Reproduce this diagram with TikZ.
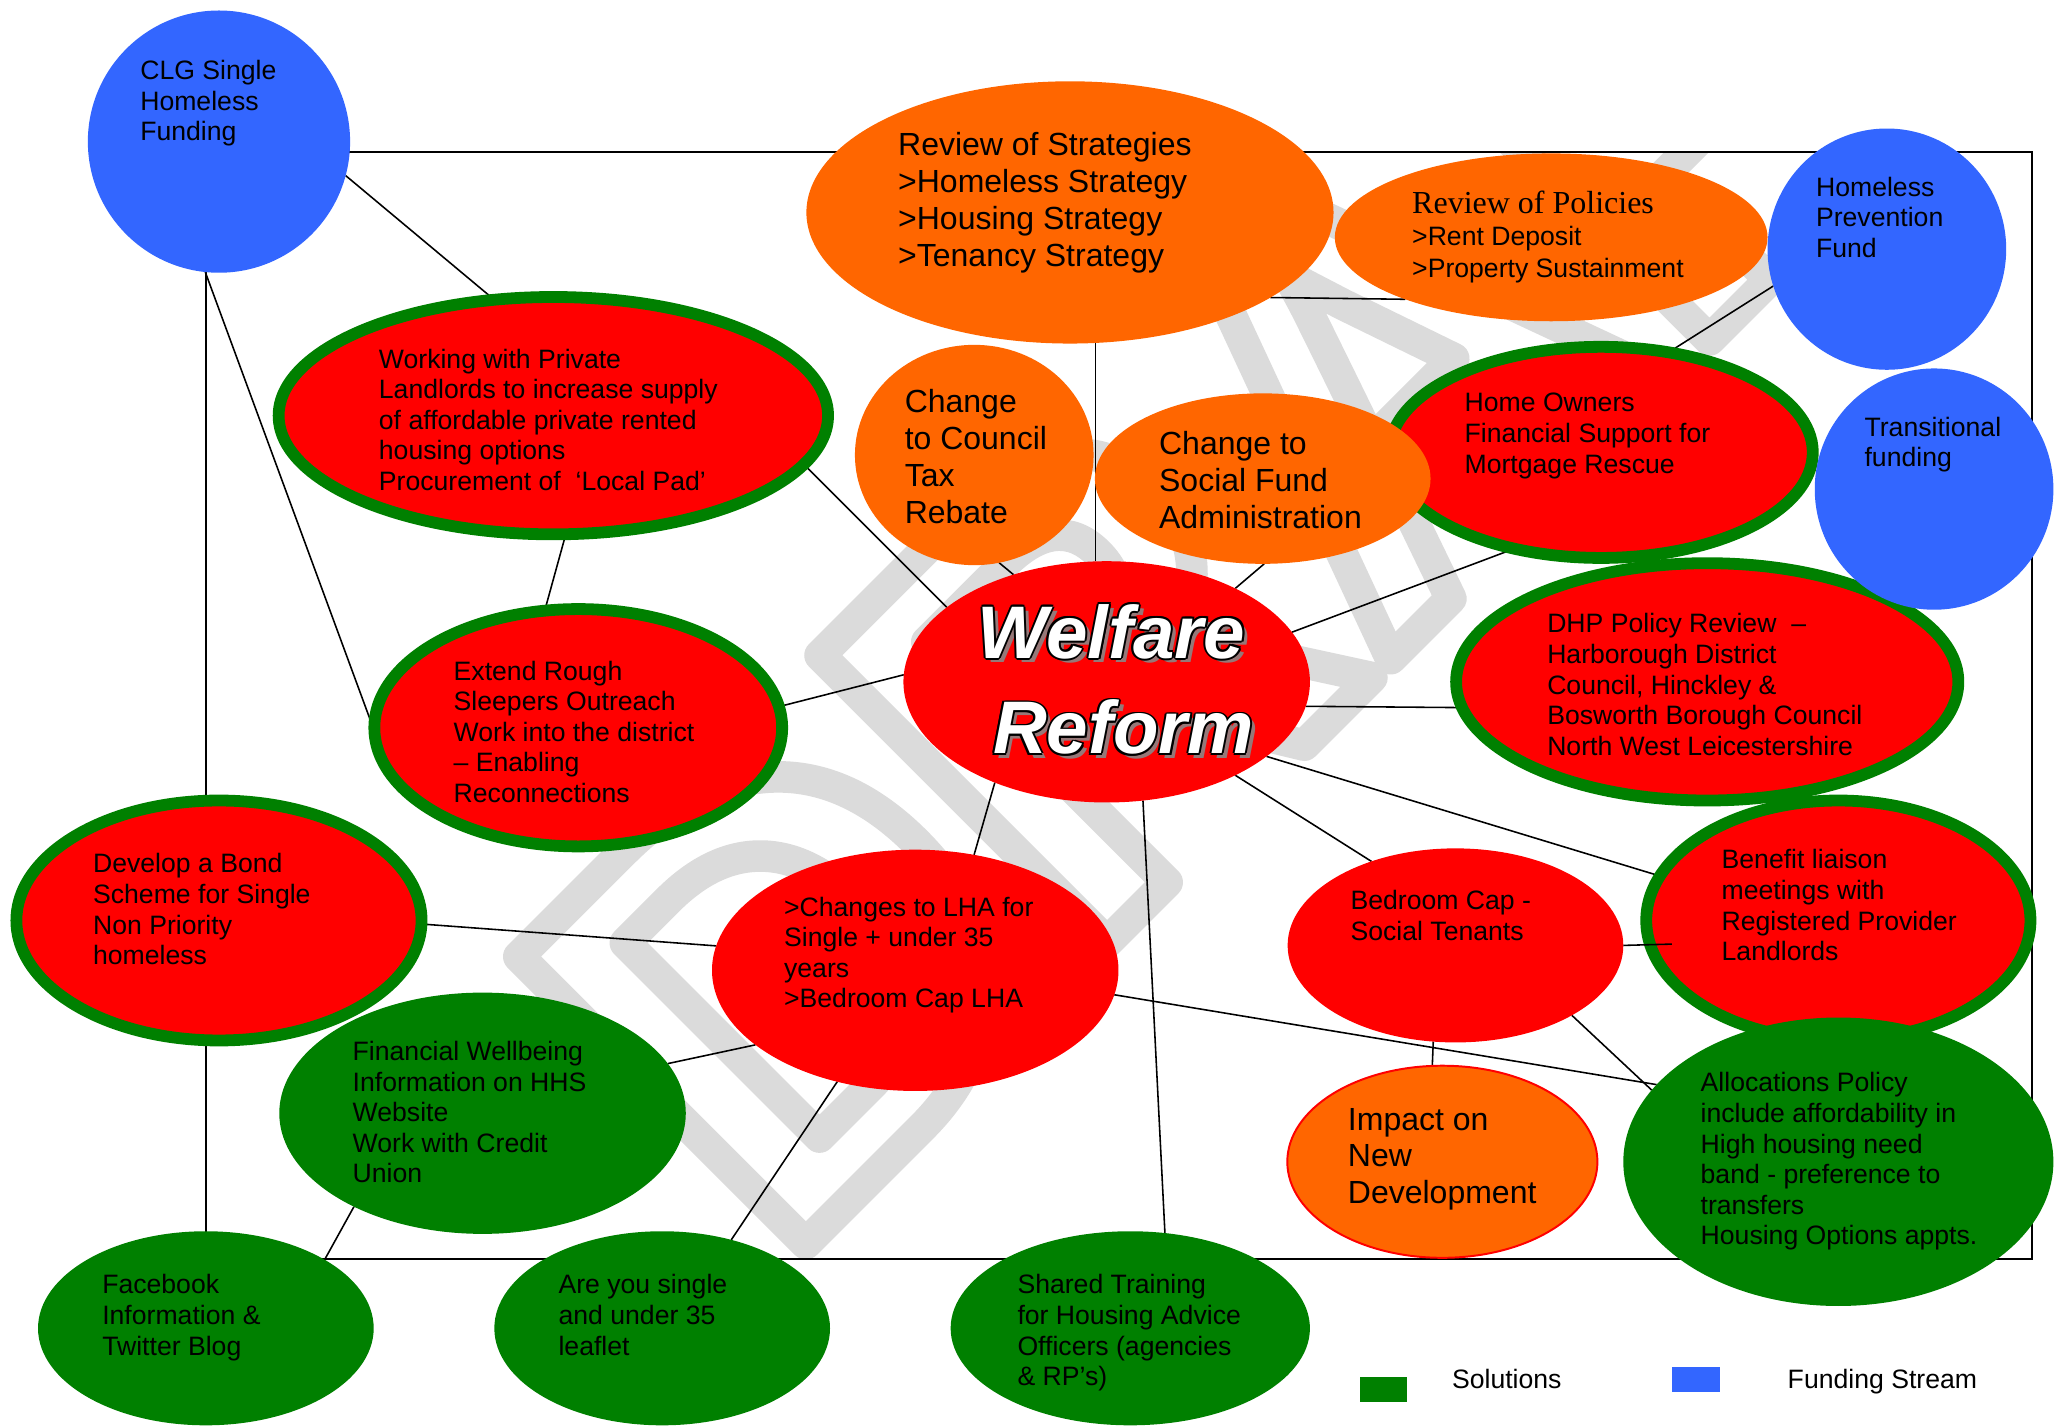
\documentclass[tikz,border=0pt]{standalone}
\usepackage{fontspec}
\setmainfont{Liberation Sans}
\newfontfamily\polserif{Liberation Serif}
\usetikzlibrary{shapes.geometric}

\definecolor{wred}{HTML}{FF0000}
\definecolor{wgreen}{HTML}{008000}
\definecolor{worange}{HTML}{FF6600}
\definecolor{wblue}{HTML}{3366FF}
\definecolor{wmark}{gray}{0.86}
\definecolor{wshadow}{RGB}{150,120,120}

\newcommand\txa{\fontsize{10.15pt}{11.67pt}\selectfont}
\newcommand\txb{\fontsize{12.2pt}{14.03pt}\selectfont}
\newcommand\wrfont{\fontsize{28.4pt}{30pt}\selectfont\bfseries\itshape}

% white lettering with a thin black outline and a grey drop shadow
\newcommand\embossed[1]{%
  \rlap{\kern1.8pt\raisebox{-1.8pt}{\textcolor{wshadow}{#1}}}%
  \rlap{\kern-0.75pt\textcolor{black}{#1}}%
  \rlap{\kern0.75pt\textcolor{black}{#1}}%
  \rlap{\raisebox{0.75pt}{\textcolor{black}{#1}}}%
  \rlap{\raisebox{-0.75pt}{\textcolor{black}{#1}}}%
  \rlap{\kern-0.53pt\raisebox{0.53pt}{\textcolor{black}{#1}}}%
  \rlap{\kern0.53pt\raisebox{0.53pt}{\textcolor{black}{#1}}}%
  \rlap{\kern-0.53pt\raisebox{-0.53pt}{\textcolor{black}{#1}}}%
  \rlap{\kern0.53pt\raisebox{-0.53pt}{\textcolor{black}{#1}}}%
  \textcolor{white}{#1}}

% hollow (stroked only) lettering
\newcommand\hollowtext[1]{%
  \special{pdf:literal direct 1 Tr 1 j 12 w 0.86 G}#1\special{pdf:literal direct 0 Tr}}

\pgfdeclarelayer{wm}
\pgfdeclarelayer{links}
\pgfsetlayers{wm,links,main}

\begin{document}
\begin{tikzpicture}[x=0.5pt,y=-0.5pt,
  bub/.style={ellipse, inner sep=0pt, outer sep=0pt},
  sz/.style 2 args={minimum width=#1pt, minimum height=#2pt},
  redring/.style={bub, fill=wred, draw=wgreen, line width=4.5pt},
  redplain/.style={bub, fill=wred},
  greenplain/.style={bub, fill=wgreen},
  orangeplain/.style={bub, fill=worange},
  blueplain/.style={bub, fill=wblue},
  lbl/.style={anchor=north west, inner sep=0pt, outer sep=0pt, align=left, font=\txa},
  lblb/.style={lbl, font=\txb},
  link/.style={draw=black, line width=0.6pt},
  frame/.style={draw=black, line width=0.75pt},
]
\useasboundingbox (0,0) rectangle (1568,1087);

% ---------- bubbles ----------
\node[orangeplain, sz={201}{100}] (strat) at (816,162) {};
\node[orangeplain, sz={165}{64}] (pol) at (1183,181) {};
\node[blueplain, sz={91}{92}] (hpf) at (1439,190) {};
\node[blueplain, sz={100}{100}] (clg) at (167,108) {};
\node[redring, sz={209.5}{90.5}] (working) at (422,317) {};
\node[redring, sz={161.5}{80.5}] (home) at (1221,345) {};
\node[orangeplain, sz={128}{65}] (social) at (963,365) {};
\node[orangeplain, sz={91}{84}] (council) at (743,347) {};
\node[redplain, sz={155}{92}] (wr) at (844,520) {};
\node[redring, sz={155.5}{90.5}] (extend) at (441,555) {};
\node[redring, sz={191.5}{90.5}] (dhp) at (1302,520) {};
\node[blueplain, sz={91}{92}] (trans) at (1475,373) {};
\node[redring, sz={154.5}{91.5}] (bond) at (167,702) {};
\node[redplain, sz={155}{92}] (lha) at (698,740) {};
\node[redplain, sz={128}{74}] (bed) at (1110,721) {};
\node[redring, sz={146.5}{91.5}] (benefit) at (1402,702) {};
\node[greenplain, sz={155}{92}] (fin) at (368,849) {};
\node[bub, fill=worange, draw=wred, line width=0.75pt, sz={118.25}{73.25}] (impact) at (1100,886) {};
\node[greenplain, sz={164}{110}] (alloc) at (1402,886) {};
\node[greenplain, sz={128}{74}] (face) at (157,1013) {};
\node[greenplain, sz={128}{74}] (single) at (505,1013) {};
\node[greenplain, sz={137}{74}] (shared) at (862,1013) {};

% ---------- watermark, frame and connectors (behind the bubbles) ----------
\begin{pgfonlayer}{wm}
  \fill[white] (0,0) rectangle (1568,1087);
  \begin{scope}
    \clip (0,116) rectangle (1568,1087);
    \node[rotate=45, anchor=base west, inner sep=0pt, text=wmark,
          font=\fontsize{225pt}{225pt}\selectfont\bfseries] (draft) at (593,970)
      {\hollowtext{DRAFT}};
  \end{scope}
\end{pgfonlayer}

\begin{pgfonlayer}{links}
  \draw[frame] (157,116) rectangle (1550,960);
  \draw[link] (clg.-15) -- (working.117);
  \draw[link] (clg.264) -- (extend.181);
  \draw[link] (working.-11) -- (wr.155);
  \draw[link] (working.-84) -- (extend.106);
  \draw[link] (council.-77) -- (wr.131);
  \draw[link] (strat.-79) -- (strat.-79 |- wr.north);
  \draw[link] (social.-89) -- (wr.36);
  \draw[link] (home.228) -- (wr.15);
  \draw[link] (hpf.198) -- (home.56);
  \draw[link] (dhp.186) -- (wr.-7);
  \draw[link] (wr.-25) -- (benefit.166);
  \draw[link] (wr.-36) -- (bed.135);
  \draw[link] (wr.-73) -- (shared.70);
  \draw[link] (wr.-138) -- (lha.63);
  \draw[link] (extend.6) -- (wr.178);
  \draw[link] (bond.-1) -- (lha.173);
  \draw[link] (lha.205) -- (fin.15);
  \draw[link] (lha.-125) -- (single.52);
  \draw[link] (lha.-7) -- (alloc.157);
  \draw[link] (bed.-103) -- (impact.96);
  \draw[link] (bed.-31) -- (alloc.159);
  \draw[link] (fin.-144) -- (face.30);
  \draw[link] (strat.-23) -- (pol.203);
\end{pgfonlayer}

% the short link into the liaison bubble runs over its rim
\coordinate (benin) at (1275,720);
\draw[link] (bed.0) -- (benin);

% ---------- labels ----------
\node[lbl] (t-clg) at (107,46) {CLG Single\\Homeless\\Funding};
\node[lblb] (t-strat) at (685,101) {Review of Strategies\\>Homeless Strategy\\>Housing Strategy\\>Tenancy Strategy};
\node[lbl, font=\fontsize{10.15pt}{12.1pt}\selectfont] (t-pol) at (1077,146)
  {{\polserif\fontsize{12.2pt}{12.2pt}\selectfont Review of Policies}\\>Rent Deposit\\>Property Sustainment};
\node[lbl] (t-hpf) at (1385,135) {Homeless\\Prevention\\Fund};
\node[lbl] (t-trans) at (1422,318) {Transitional\\funding};
\node[lbl] (t-working) at (289,266) {Working with Private\\Landlords to increase supply\\of affordable private rented\\housing options\\Procurement of~ ‘Local Pad’};
\node[lblb] (t-council) at (690,297) {Change\\to Council\\Tax\\Rebate};
\node[lblb] (t-social) at (884,329) {Change to\\Social Fund\\Administration};
\node[lbl] (t-home) at (1117,300) {Home Owners\\Financial Support for\\Mortgage Rescue};
\node[lbl] (t-extend) at (346,504) {Extend Rough\\Sleepers Outreach\\Work into the district\\– Enabling\\Reconnections};
\node[lbl] (t-dhp) at (1180,468) {DHP Policy Review~ –\\Harborough District\\Council, Hinckley \&\\Bosworth Borough Council\\North West Leicestershire};
\node[lbl] (t-bond) at (71,651) {Develop a Bond\\Scheme for Single\\Non Priority\\homeless};
\node[lbl] (t-lha) at (598,684) {>Changes to LHA for\\Single + under 35\\years\\>Bedroom Cap LHA};
\node[lbl] (t-bed) at (1030,679) {Bedroom Cap -\\Social Tenants};
\node[lbl] (t-benefit) at (1313,648) {Benefit liaison\\meetings with\\Registered Provider\\Landlords};
\node[lbl] (t-fin) at (269,794) {Financial Wellbeing\\Information on HHS\\Website\\Work with Credit\\Union};
\node[lblb] (t-impact) at (1028,845) {Impact on\\New\\Development};
\node[lbl] (t-alloc) at (1297,818) {Allocations Policy\\include affordability in\\High housing need\\band - preference to\\transfers\\Housing Options appts.};
\node[lbl] (t-face) at (78,972) {Facebook\\Information \&\\Twitter Blog};
\node[lbl] (t-single) at (426,972) {Are you single\\and under 35\\leaflet};
\node[lbl] (t-shared) at (776,972) {Shared Training\\for Housing Advice\\Officers (agencies\\\& RP’s)};

% centre title
\node[anchor=base west, inner sep=0pt, font=\wrfont] (wr-a) at (745,502) {\embossed{Welfare}};
\node[anchor=base west, inner sep=0pt, font=\wrfont] (wr-b) at (757,575) {\embossed{Reform}};

% ---------- key ----------
\node[fill=wgreen, inner sep=0pt, minimum width=18pt, minimum height=9.5pt, anchor=north west] (key-sol) at (1037,1050) {};
\node[anchor=base west, inner sep=0pt, font=\txa] (key-sol-t) at (1107,1059) {Solutions};
\node[fill=wblue, inner sep=0pt, minimum width=18pt, minimum height=9.5pt, anchor=north west] (key-fund) at (1275,1042) {};
\node[anchor=base west, inner sep=0pt, font=\txa] (key-fund-t) at (1363,1059) {Funding Stream};
\end{tikzpicture}
\end{document}
